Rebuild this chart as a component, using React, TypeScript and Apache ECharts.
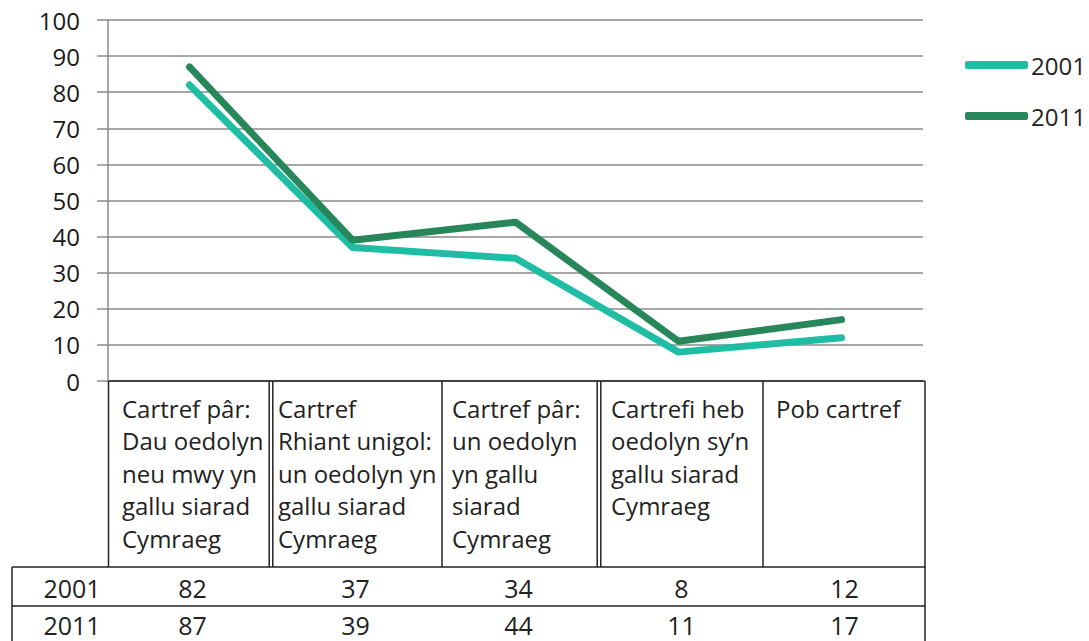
import React, { useEffect, useRef } from "react";
import * as echarts from "echarts";

const categories = ["c1", "c2", "c3", "c4", "c5"];
const categoryLabels = [
  "Cartref pâr:\nDau oedolyn\nneu mwy yn\ngallu siarad\nCymraeg",
  "Cartref\nRhiant unigol:\nun oedolyn yn\ngallu siarad\nCymraeg",
  "Cartref pâr:\nun oedolyn\nyn gallu\nsiarad\nCymraeg",
  "Cartrefi heb\noedolyn sy’n\ngallu siarad\nCymraeg",
  "Pob cartref",
];
const seriesNames = ["2001", "2011"];
const values2001 = [82, 37, 34, 8, 12];
const values2011 = [87, 39, 44, 11, 17];
const yMin = 0;
const yMax = 100;
const yInterval = 10;

const COLOR_2001 = "#1fbea4";
const COLOR_2011 = "#27875a";
const FONT = "'Open Sans', 'DejaVu Sans', sans-serif";

export default function App() {
  const ref = useRef<HTMLDivElement>(null);
  useEffect(() => {
    const chart = echarts.init(ref.current!, null, { renderer: "svg" });
    chart.setOption({
      animation: false,
      backgroundColor: "#ffffff",
      grid: { left: 108, right: 166, top: 20, bottom: 260 },
      legend: {
        data: seriesNames,
        orient: "vertical",
        left: 960,
        top: 48,
        itemWidth: 63,
        itemHeight: 8,
        itemGap: 27,
        icon: "roundRect",
        textStyle: { fontSize: 24, color: "#222", fontFamily: FONT, padding: [0, 0, 0, -2] },
      },
      xAxis: {
        type: "category",
        data: categories,
        boundaryGap: true,
        axisLine: { show: false },
        axisTick: { show: false },
        axisLabel: { show: false },
        splitLine: { show: false },
      },
      yAxis: {
        type: "value",
        min: yMin,
        max: yMax,
        interval: yInterval,
        axisLine: { show: true, lineStyle: { color: "#8a8a8a", width: 1.5 } },
        axisTick: { show: true, length: 11, lineStyle: { color: "#8a8a8a", width: 1.5 } },
        splitLine: { show: true, lineStyle: { color: "#8a8a8a", width: 1.5 } },
        axisLabel: { fontSize: 24, color: "#1a1a1a", fontFamily: FONT, margin: 28 },
      },
      series: [
        {
          name: seriesNames[0],
          type: "line",
          data: values2001,
          showSymbol: false,
          symbol: "none",
          color: COLOR_2001,
          lineStyle: { width: 7, color: COLOR_2001, cap: "round", join: "round" },
          z: 3,
        },
        {
          name: seriesNames[1],
          type: "line",
          data: values2011,
          showSymbol: false,
          symbol: "none",
          color: COLOR_2011,
          lineStyle: { width: 7, color: COLOR_2011, cap: "round", join: "round" },
          z: 4,
        },
      ],
    });

    const xs = categories.map(
      (c) => chart.convertToPixel({ xAxisIndex: 0 }, c) as number
    );
    const yTop = chart.convertToPixel({ yAxisIndex: 0 }, 0) as number;

    const boxBottom = 567;
    const row1 = 606;
    const tableBottom = 645;
    const tableLeft = 12;
    const tableRight = 925;
    const axisX = 108.5;
    const colEdges = [axisX, 271, 442, 599, 763, tableRight];
    const doubleEdges = [271, 599];
    const textLefts = [122, 278, 452, 611, 776];
    const stroke = "#222";
    const lw = 1.5;

    const g: any[] = [];
    const ln = (x1: number, y1: number, x2: number, y2: number) =>
      g.push({
        type: "line",
        z: 10,
        shape: { x1, y1, x2, y2 },
        style: { stroke, lineWidth: lw },
      });

    // category box
    ln(axisX, yTop, tableRight, yTop);
    colEdges.forEach((x) => {
      if (doubleEdges.includes(x)) {
        ln(x - 1.8, yTop, x - 1.8, boxBottom);
        ln(x + 1.8, yTop, x + 1.8, boxBottom);
      } else if (x === tableRight) {
        ln(x, yTop, x, tableBottom);
      } else {
        ln(x, yTop, x, boxBottom);
      }
    });
    // rows
    ln(tableLeft, boxBottom, tableRight, boxBottom);
    ln(tableLeft, row1, tableRight, row1);
    ln(tableLeft, boxBottom, tableLeft, tableBottom);

    categoryLabels.forEach((t, i) => {
      g.push({
        type: "text",
        z: 10,
        x: textLefts[i],
        y: 392,
        style: {
          text: t,
          font: `24px ${FONT}`,
          fill: "#222",
          align: "left",
          verticalAlign: "top",
          lineHeight: 32.5,
        },
      });
    });

    const rows = [
      { name: seriesNames[0], vals: values2001, y: (boxBottom + row1) / 2 + 1 },
      { name: seriesNames[1], vals: values2011, y: (row1 + 641) / 2 + 1 },
    ];
    rows.forEach((r) => {
      g.push({
        type: "text",
        z: 10,
        x: 72,
        y: r.y,
        style: {
          text: r.name,
          font: `25px ${FONT}`,
          fill: "#222",
          align: "center",
          verticalAlign: "middle",
        },
      });
      r.vals.forEach((v, i) => {
        g.push({
          type: "text",
          z: 10,
          x: xs[i] + 3,
          y: r.y,
          style: {
            text: String(v),
            font: `25px ${FONT}`,
            fill: "#222",
            align: "center",
            verticalAlign: "middle",
          },
        });
      });
    });

    chart.setOption({ graphic: g });
    return () => chart.dispose();
  }, []);
  return (
    <div
      ref={ref}
      style={{
        position: "absolute",
        left: 0,
        top: 0,
        width: 1089,
        height: 641,
        background: "#fff",
      }}
    />
  );
}
